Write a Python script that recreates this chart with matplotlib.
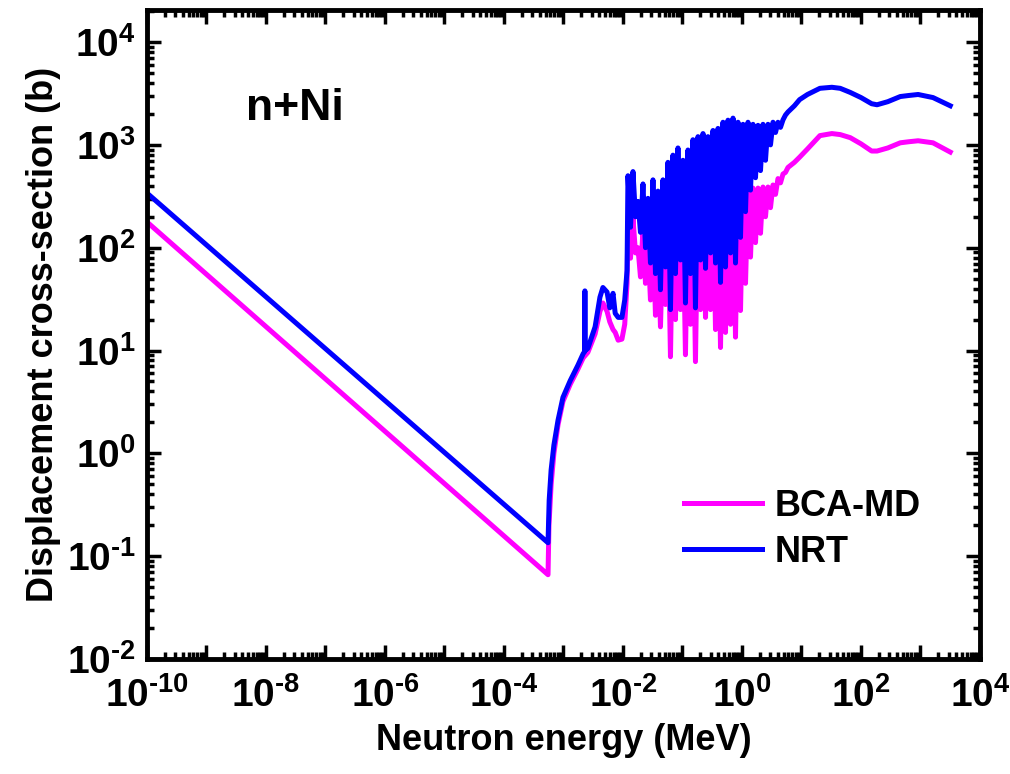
import numpy as np
import matplotlib
matplotlib.use("Agg")
import matplotlib.pyplot as plt
from matplotlib.ticker import LogLocator, NullFormatter

plt.rcParams['font.family'] = ['Liberation Sans', 'DejaVu Sans']
plt.rcParams['font.weight'] = 'bold'
plt.rcParams['mathtext.fontset'] = 'custom'
plt.rcParams['mathtext.rm'] = 'Liberation Sans:bold'
plt.rcParams['mathtext.it'] = 'Liberation Sans:bold'
plt.rcParams['mathtext.bf'] = 'Liberation Sans:bold'

# --- data (energy in MeV, cross-section in barns) ---
# resonance region energies, shared by both curves
forest_E = [0.01213, 0.01337, 0.01472, 0.01622, 0.01786, 0.01968, 0.02168, 0.02388,
            0.02630, 0.02897, 0.03192, 0.03516, 0.03873, 0.04266, 0.04699, 0.05176,
            0.05702, 0.06281, 0.06918, 0.07621, 0.08395, 0.09247, 0.1019, 0.1122,
            0.1236, 0.1361, 0.1500, 0.1652, 0.1823, 0.2009, 0.2213, 0.2438,
            0.2685, 0.2958, 0.3258, 0.3589, 0.3954, 0.4355, 0.4797, 0.5284,
            0.5821, 0.6412, 0.7063, 0.7780, 0.8570, 0.9441, 1.040, 1.146,
            1.262, 1.390, 1.531, 1.687, 1.858, 2.047, 2.254, 2.483,
            2.735, 3.013, 3.319, 3.656, 4.027, 4.436, 4.887, 5.383, 5.929]

nrt_forest = [501, 158, 550, 200, 282, 141, 417, 100, 302, 71, 457, 56, 355, 39, 457, 65,
              676, 25, 794, 56, 933, 76, 708, 29, 891, 56, 1122, 26, 1202, 76, 1288, 63,
              1202, 89, 1380, 71, 1445, 46, 1660, 65, 1738, 89, 1820, 71, 1660, 126, 1585, 224,
              1660, 363, 1585, 479, 1549, 562, 1585, 708, 1585, 1000, 1660, 1320, 1660, 1480,
              1750, 1950, 2089]

bca_forest = [178, 79, 195, 89, 100, 52, 148, 45, 107, 31, 145, 22, 112, 17, 145, 28,
              214, 8.7, 251, 20, 295, 25, 224, 9.1, 282, 18, 355, 7.8, 339, 25, 363, 21,
              339, 25, 389, 16, 407, 10.7, 417, 15, 437, 18, 457, 13.5, 417, 24.5, 398, 45,
              372, 81, 380, 112, 380, 138, 389, 200, 389, 245, 407, 330, 470, 427,
              520, 540, 603]

# low energy part (1/v line, threshold rise, first resonances)
nrt_low_E = [1e-10, 5.5e-4, 5.75e-4, 6.2e-4, 6.9e-4, 8.1e-4, 9.8e-4, 1.3e-3, 1.75e-3,
             2.14e-3, 2.28e-3, 2.29e-3, 2.30e-3, 2.57e-3, 3.4e-3, 4.1e-3, 4.6e-3,
             5.4e-3, 6.0e-3, 6.8e-3, 7.4e-3, 8.3e-3, 9.6e-3, 1.07e-2, 1.17e-2]
nrt_low = [340, 0.135, 0.35, 0.69, 1.2, 2.1, 3.5, 5.1, 7.2,
           9.3, 9.8, 38, 10.0, 10.5, 17, 33, 41,
           37, 26, 36, 23, 21, 21, 31, 60]

bca_low_E = [1e-10, 5.5e-4, 5.7e-4, 6.2e-4, 6.9e-4, 8.1e-4, 9.8e-4, 1.3e-3, 1.75e-3,
             2.15e-3, 2.57e-3, 3.4e-3, 4.1e-3, 4.6e-3, 5.4e-3, 6.0e-3, 6.8e-3,
             7.4e-3, 8.3e-3, 9.6e-3, 1.07e-2, 1.17e-2]
bca_low = [178, 0.066, 0.2, 0.5, 1.0, 1.9, 3.2, 4.7, 6.6,
           8.5, 9.6, 14.5, 24, 29, 24, 19, 16,
           15, 12.6, 12.9, 18, 45]

# smooth high energy tail
tail_E = [7.6, 9.3, 12.6, 20.4, 32.4, 44.7, 66, 100, 151, 186, 282, 457, 631, 912, 1622, 3162]
nrt_tail = [2399, 2754, 3090, 3548, 3631, 3548, 3236, 2884, 2512, 2455, 2630, 2951, 3020, 3090, 2884, 2399]
bca_tail = [676, 759, 912, 1230, 1288, 1259, 1175, 1023, 871, 871, 933, 1047, 1072, 1096, 1047, 851]

x_exps = list(range(-10, 5))
y_exps = list(range(-2, 5))

nrt_E = nrt_low_E + forest_E + tail_E
nrt_xs = nrt_low + nrt_forest + nrt_tail
bca_E = bca_low_E + forest_E + tail_E
bca_xs = bca_low + bca_forest + bca_tail


def pow_label(k):
    # short hyphen for the minus, like the original figure
    s = str(k).replace('-', '\u2010')
    return r'$10^{%s}$' % s


# --- figure ---
fig = plt.figure(figsize=(10.1, 7.74), dpi=100)
ax = fig.add_axes([0.1455, 0.1486, 0.8248, 0.8385])

ax.plot(bca_E, bca_xs, color='#ff00ff', lw=3.6, label='BCA-MD', solid_joinstyle='round')
ax.plot(nrt_E, nrt_xs, color='#0000ff', lw=3.6, label='NRT', solid_joinstyle='round')

ax.set_xscale('log')
ax.set_yscale('log')
ax.set_xlim(1e-10, 1e4)
ax.set_ylim(1e-2, 2.05e4)

ax.set_xticks([10.0 ** k for k in x_exps])
ax.set_xticklabels([pow_label(k) if k % 2 == 0 else '' for k in x_exps])
ax.set_yticks([10.0 ** k for k in y_exps])
ax.set_yticklabels([pow_label(k) for k in y_exps])
for axis in (ax.xaxis, ax.yaxis):
    axis.set_minor_locator(LogLocator(base=10, subs=np.arange(2, 10), numticks=100))
    axis.set_minor_formatter(NullFormatter())

ax.tick_params(which='both', direction='in', top=True, right=True, width=2.5)
ax.tick_params(which='major', length=10, labelsize=28)
ax.tick_params(axis='x', which='major', pad=13)
ax.tick_params(axis='y', which='major', pad=8)
ax.tick_params(which='minor', length=5)
for sp in ax.spines.values():
    sp.set_linewidth(3.5)

ax.set_xlabel('Neutron energy (MeV)', fontsize=26, fontweight='bold', labelpad=6)
ax.set_ylabel('Displacement cross-section (b)', fontsize=26, fontweight='bold', labelpad=4)

ax.text(0.178, 0.848, 'n+Ni', transform=ax.transAxes, fontsize=32, fontweight='bold',
        ha='center', va='center')

ax.legend(loc='upper left', bbox_to_anchor=(0.645, 0.262), frameon=False,
          fontsize=26, handlelength=2.15, handletextpad=0.35, labelspacing=0.3,
          borderpad=0, borderaxespad=0)

fig.savefig('out.png', dpi=100)
